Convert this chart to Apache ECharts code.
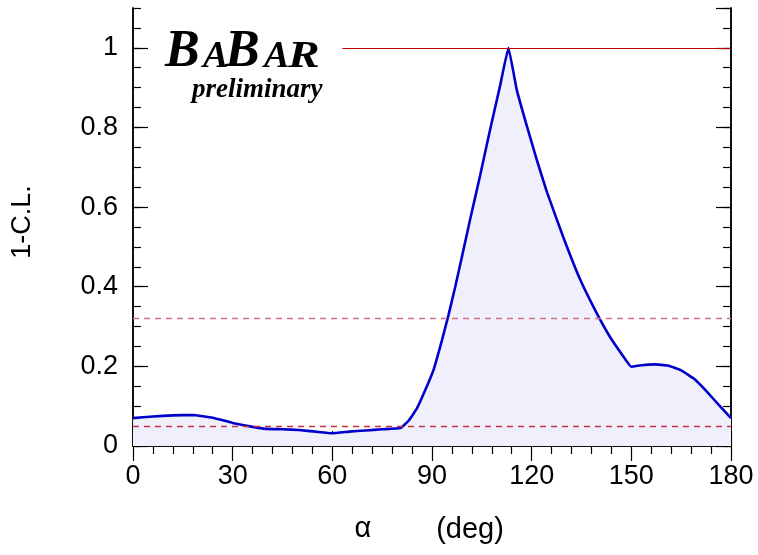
<!DOCTYPE html>
<html>
<head>
<meta charset="utf-8">
<script src="https://cdn.jsdelivr.net/npm/echarts@6/dist/echarts.min.js"></script>
<style>
html,body{margin:0;padding:0;background:#fff;}
#chart{width:758px;height:555px;}
</style>
</head>
<body>
<div id="chart"></div>
<script>
// alpha (deg) and 1-C.L. values
const alphaDeg = [0, 6, 12, 18, 24, 30, 36, 40, 45, 50, 55, 60, 65, 70, 75, 80.5, 83, 85.5, 88, 90.5, 93, 95, 97, 99, 101.5, 104.5, 107.5, 110.5, 113, 115.5, 118.5, 121.5, 124.5, 129.5, 134.5, 139.5, 143.5, 147, 150, 153, 157, 161, 165, 169, 173, 177, 180];
const oneMinusCL = [0.070, 0.074, 0.077, 0.078, 0.071, 0.058, 0.048, 0.043, 0.042, 0.040, 0.036, 0.032, 0.036, 0.039, 0.042, 0.045, 0.064, 0.095, 0.141, 0.192, 0.266, 0.330, 0.400, 0.475, 0.570, 0.680, 0.795, 0.905, 1.000, 0.895, 0.805, 0.720, 0.640, 0.525, 0.420, 0.335, 0.275, 0.232, 0.199, 0.203, 0.205, 0.202, 0.190, 0.168, 0.134, 0.097, 0.070];
const xTickLabels = ['0', '30', '60', '90', '120', '150', '180'];
const yTickLabels = ['0', '0.2', '0.4', '0.6', '0.8', '1'];
const sigmaLevels = [0.3173, 0.0455];
const topLineRange = [63, 180];

const chart = echarts.init(document.getElementById('chart'));
const font = "Liberation Sans, Arial, sans-serif";
const serif = "Liberation Serif, Times New Roman, serif";
const curve = alphaDeg.map((a, i) => [a, oneMinusCL[i]]);

function xAx(pos, labels) {
  return {
    type: 'value', min: 0, max: 180, interval: 30, position: pos,
    axisLine: {show: true, lineStyle: {color: '#000', width: 1.5}},
    axisTick: {show: true, inside: true, length: 15, lineStyle: {color: '#000', width: 1.2}},
    minorTick: {show: true, splitNumber: 5, length: 8, lineStyle: {color: '#000', width: 1.2}},
    splitLine: {show: false},
    axisLabel: labels ? {show: true, fontFamily: font, fontSize: 27, color: '#000', margin: 17,
      formatter: v => xTickLabels.indexOf(String(v)) >= 0 ? String(v) : ''} : {show: false}
  };
}
function yAx(pos, major, labels) {
  return {
    type: 'value', min: 0, max: 1.1, interval: major ? 0.2 : 0.05, position: pos, offset: 0,
    axisLine: {show: true, lineStyle: {color: '#000', width: 1.5}},
    axisTick: {show: true, inside: true, length: major ? 15 : 8, lineStyle: {color: '#000', width: 1.2}},
    splitLine: {show: false},
    axisLabel: labels ? {show: true, fontFamily: font, fontSize: 27, color: '#000', margin: 15, showMaxLabel: false,
      formatter: v => { const s = String(+v.toFixed(2)); return yTickLabels.indexOf(s) >= 0 ? s : ''; }} : {show: false}
  };
}
function letter(ch, x, size, sx) {
  // place alphabetic baseline at y=70
  return {type: 'text', x: x, y: 70 - 0.34 * size, scaleX: sx || 1, z: 10, style: {
    text: ch, fontFamily: serif, fontWeight: 'bold', fontStyle: 'italic', fontSize: size, fill: '#000',
    align: 'left', verticalAlign: 'middle'}};
}

chart.setOption({
  backgroundColor: '#fff',
  animation: false,
  grid: {left: 133, right: 27, top: 8, bottom: 109, containLabel: false},
  xAxis: [xAx('bottom', true), xAx('top', false)],
  yAxis: [yAx('left', true, true), yAx('left', false, false), yAx('right', true, false), yAx('right', false, false)],
  series: [
    {
      type: 'line', xAxisIndex: 0, yAxisIndex: 0, data: curve, showSymbol: false, smooth: 0.1,
      lineStyle: {color: '#0000cc', width: 2.6},
      areaStyle: {color: '#f0f0fc', opacity: 1, origin: 'start'},
      z: 3,
      markLine: {
        silent: true, symbol: 'none', label: {show: false},
        data: [
          {yAxis: sigmaLevels[0], lineStyle: {color: '#d07080', type: [6, 5], width: 1.3}},
          {yAxis: sigmaLevels[1], lineStyle: {color: '#c83040', type: [6, 5], width: 1.3}},
          [{coord: [topLineRange[0], 1]}, {coord: [topLineRange[1], 1], lineStyle: {color: '#c00000', type: 'solid', width: 1.2}}]
        ]
      }
    }
  ],
  graphic: [
    letter('B', 165, 52),
    letter('A', 203, 38),
    letter('B', 225, 52),
    letter('A', 264, 38),
    letter('R', 288, 38, 1.25),
    {type: 'text', left: 192, top: 77, z: 10, style: {text: 'preliminary', fontFamily: serif, fontWeight: 'bold', fontStyle: 'italic', fontSize: 27, fill: '#000'}},
    {type: 'text', x: 23, y: 222, rotation: Math.PI / 2, z: 10, style: {text: '1-C.L.', fontFamily: font, fontSize: 27, fill: '#000', align: 'center', verticalAlign: 'middle'}},
    {type: 'text', x: 363, y: 529, z: 10, style: {text: 'α', fontFamily: font, fontSize: 29, fill: '#000', align: 'center', verticalAlign: 'middle'}},
    {type: 'text', x: 470, y: 530, z: 10, style: {text: '(deg)', fontFamily: font, fontSize: 29, fill: '#000', align: 'center', verticalAlign: 'middle'}}
  ]
});
</script>
</body>
</html>
